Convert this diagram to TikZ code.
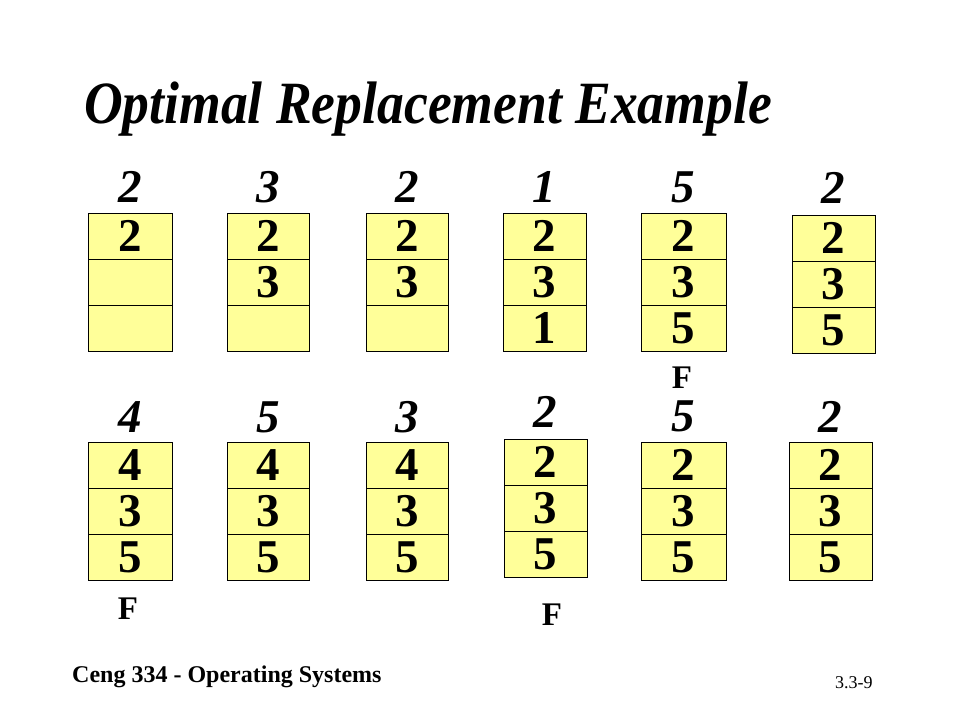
\documentclass[tikz,border=0pt]{standalone}
\usepackage{fontspec}
\setmainfont{Liberation Serif}
\definecolor{cellyellow}{HTML}{FFFF99}
\tikzset{
  cell/.style={draw=black, line width=1pt, fill=cellyellow, minimum height=46pt,
    inner sep=0pt, outer sep=0pt, font=\fontsize{47}{47}\selectfont\bfseries},
  reflab/.style={anchor=base, inner sep=0pt, font=\fontsize{47}{47}\selectfont\bfseries\itshape},
  faultlab/.style={anchor=base, inner sep=0pt, font=\fontsize{33}{33}\selectfont\bfseries}
}
\newcommand\memcol[7]{%
  \node[cell, minimum width=#4pt, anchor=north west] (#1a) at (#2,#3) {#5};
  \node[cell, minimum width=#4pt, anchor=north] (#1b) at (#1a.south) {#6};
  \node[cell, minimum width=#4pt, anchor=north] (#1c) at (#1b.south) {#7};
}
\begin{document}
\begin{tikzpicture}[x=1pt,y=-1pt]
\useasboundingbox (0,0) rectangle (960,720);
\fill[white] (0,0) rectangle (960,720);
% title
\node[anchor=base west, inner sep=0pt] (title) at (84,123)
  {\scalebox{0.893}[1]{\fontsize{60}{60}\selectfont\bfseries\itshape Optimal Replacement Example}};
% row 1
\memcol{ra}{88}{213}{84}{2}{}{}
\memcol{rb}{227}{213}{82}{2}{3}{}
\memcol{rc}{366}{213}{82}{2}{3}{}
\memcol{rd}{503}{213}{83}{2}{3}{1}
\memcol{re}{641}{213}{85}{2}{3}{5}
\memcol{rf}{792}{215}{83}{2}{3}{5}
\node[reflab] (la) at (130,202) {2};
\node[reflab] (lb) at (268,202) {3};
\node[reflab] (lc) at (407,202) {2};
\node[reflab] (ld) at (544.5,202) {1};
\node[reflab] (le) at (683.5,202) {5};
\node[reflab] (lf) at (833.5,203) {2};
\node[faultlab] (fe) at (682,388) {F};
% row 2
\memcol{sa}{88}{442}{84}{4}{3}{5}
\memcol{sb}{227}{442}{82}{4}{3}{5}
\memcol{sc}{366}{442}{82}{4}{3}{5}
\memcol{sd}{504}{439}{83}{2}{3}{5}
\memcol{se}{641}{442}{85}{2}{3}{5}
\memcol{sf}{789}{442}{83}{2}{3}{5}
\node[reflab] (ma) at (130,432) {4};
\node[reflab] (mb) at (268,432) {5};
\node[reflab] (mc) at (407,432) {3};
\node[reflab] (md) at (545.5,427) {2};
\node[reflab] (me) at (683.5,431) {5};
\node[reflab] (mf) at (830.5,432) {2};
\node[faultlab] (ga) at (128,619) {F};
\node[faultlab] (gd) at (552,625) {F};
% footer
\node[anchor=base west, inner sep=0pt] (course) at (72,682)
  {\fontsize{24}{24}\selectfont\bfseries Ceng 334 - Operating Systems};
\node[anchor=base west, inner sep=0pt] (pagenum) at (835,688)
  {\fontsize{18}{18}\selectfont 3.3-9};
\end{tikzpicture}
\end{document}
